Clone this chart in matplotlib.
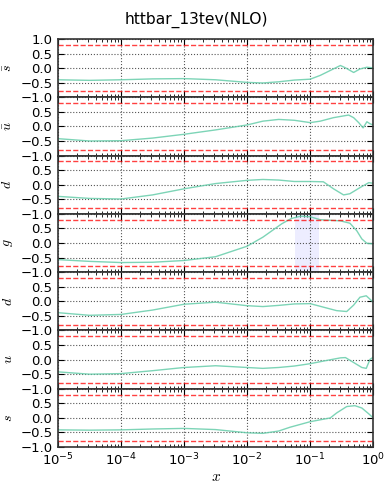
import numpy as np
import matplotlib
matplotlib.use("Agg")
import matplotlib.pyplot as plt

plt.rcParams["mathtext.fontset"] = "cm"

# log10(x) positions and correlation values
flavours = [r"$\bar{s}$", r"$\bar{u}$", r"$\bar{d}$", r"$g$", r"$d$", r"$u$", r"$s$"]

sbar_lx = [-5, -4.5, -4, -3.5, -3, -2.5, -2, -1.75, -1.5, -1.25, -1, -0.84, -0.68, -0.52, -0.44, -0.31, -0.21, -0.1, 0]
sbar_y = [-0.40, -0.42, -0.40, -0.37, -0.36, -0.40, -0.49, -0.51, -0.47, -0.41, -0.38, -0.25, -0.08, 0.09, 0.01, -0.15, -0.03, 0.03, 0.01]

ubar_lx = [-5, -4.5, -4, -3.5, -3, -2.5, -2, -1.75, -1.5, -1.25, -1, -0.84, -0.63, -0.39, -0.31, -0.23, -0.16, -0.1, -0.05, 0]
ubar_y = [-0.42, -0.50, -0.49, -0.40, -0.27, -0.12, 0.05, 0.18, 0.24, 0.21, 0.13, 0.18, 0.30, 0.39, 0.30, 0.13, -0.05, 0.16, 0.09, 0.05]

dbar_lx = [-5, -4.5, -4, -3.5, -3, -2.5, -2, -1.75, -1.5, -1.25, -1, -0.79, -0.63, -0.47, -0.37, -0.21, -0.07, 0]
dbar_y = [-0.40, -0.47, -0.49, -0.35, -0.14, 0.04, 0.15, 0.18, 0.16, 0.11, 0.11, 0.10, -0.14, -0.35, -0.31, -0.10, 0.07, 0.05]

g_lx = [-5, -4.5, -4, -3.5, -3, -2.5, -2, -1.75, -1.6, -1.45, -1.3, -1.15, -1, -0.84, -0.52, -0.37, -0.26, -0.18, -0.1, 0]
g_y = [-0.57, -0.63, -0.67, -0.66, -0.60, -0.47, -0.11, 0.20, 0.43, 0.66, 0.84, 0.92, 0.90, 0.80, 0.76, 0.68, 0.42, 0.14, -0.01, -0.03]

d_lx = [-5, -4.5, -4, -3.5, -3, -2.5, -2, -1.75, -1.5, -1.25, -1, -0.79, -0.58, -0.42, -0.31, -0.21, -0.11, -0.05, 0]
d_y = [-0.39, -0.48, -0.45, -0.30, -0.10, -0.03, -0.15, -0.18, -0.14, -0.09, -0.08, -0.20, -0.32, -0.35, -0.13, 0.14, 0.19, 0.07, -0.03]

u_lx = [-5, -4.5, -4, -3.5, -3, -2.5, -2, -1.75, -1.5, -1.25, -1, -0.79, -0.52, -0.44, -0.31, -0.18, -0.11, -0.05, 0]
u_y = [-0.42, -0.50, -0.48, -0.38, -0.27, -0.21, -0.27, -0.30, -0.27, -0.22, -0.14, -0.05, 0.06, 0.07, -0.10, -0.27, -0.30, 0.01, 0.08]

s_lx = [-5, -4.5, -4, -3.5, -3, -2.5, -2, -1.75, -1.5, -1.32, -1, -0.68, -0.58, -0.42, -0.29, -0.18, -0.07, 0]
s_y = [-0.41, -0.42, -0.41, -0.38, -0.36, -0.40, -0.51, -0.53, -0.45, -0.32, -0.13, 0.0, 0.17, 0.39, 0.42, 0.34, 0.14, 0.0]

curves = [(sbar_lx, sbar_y), (ubar_lx, ubar_y), (dbar_lx, dbar_y), (g_lx, g_y),
          (d_lx, d_y), (u_lx, u_y), (s_lx, s_y)]

yticks = [-1.0, -0.5, 0.0, 0.5, 1.0]
band = (0.057, 0.138)  # shaded x-range on the gluon panel

fig, axes = plt.subplots(7, 1, sharex=True, figsize=(3.92, 4.87), dpi=100)
fig.subplots_adjust(left=0.148, right=0.952, bottom=0.082, top=0.920, hspace=0)

for i, ax in enumerate(axes):
    lx, y = curves[i]
    ax.plot(np.power(10.0, lx), y, color="mediumaquamarine", lw=1.0, alpha=0.85)
    ax.axhline(0.8, color="red", ls="--", lw=1.0, alpha=0.75)
    ax.axhline(-0.8, color="red", ls="--", lw=1.0, alpha=0.75)
    if i == 3:
        ax.axvspan(band[0], band[1], color="blue", alpha=0.07, lw=0)
    ax.set_xscale("log")
    ax.set_xlim(1e-5, 1)
    ax.set_ylim(-1, 1)
    ax.set_yticks(yticks)
    labels = ["%.1f" % t for t in yticks]
    labels = [l.replace("-", "\u2212") for l in labels]
    if i > 0:
        labels[-1] = ""  # top label hidden under the panel above
    ax.set_yticklabels(labels)
    ax.grid(True, color="#555555", ls=":", lw=0.8)
    ax.tick_params(which="both", direction="in", top=True, right=True)
    ax.tick_params(axis="y", labelsize=9.5, pad=4)
    ax.tick_params(axis="x", labelsize=9.5, pad=3)
    ax.tick_params(which="major", length=4)
    ax.tick_params(which="minor", length=2)
    for sp in ax.spines.values():
        sp.set_color("#333333")
        sp.set_linewidth(1.2)
    ax.set_ylabel(flavours[i], fontsize=10)
    ax.yaxis.set_label_coords(-0.135, 0.5)

axes[-1].set_xlabel(r"$x$", fontsize=11, labelpad=1)
fig.suptitle("httbar_13tev(NLO)", fontsize=11.2, y=0.975)

fig.savefig("out.png", dpi=100)
